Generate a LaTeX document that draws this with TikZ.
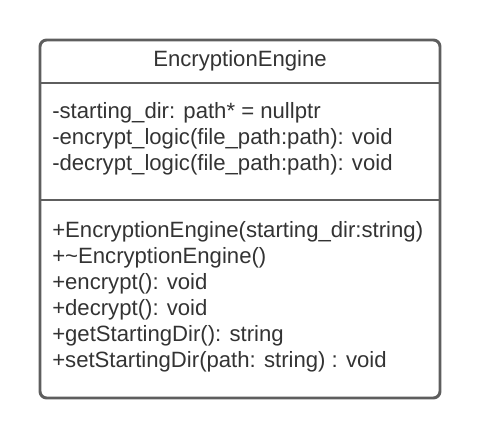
\documentclass[tikz,border=0pt]{standalone}
\usepackage{fontspec}
\setmainfont{Liberation Sans}
\usetikzlibrary{positioning}

\definecolor{umlline}{HTML}{5E5E5E}
\definecolor{umltext}{HTML}{333333}

\tikzset{
  umlrow/.style={anchor=west, inner sep=0pt, text=umltext, font=\fontsize{16.6}{19}\selectfont},
  umlhead/.style={anchor=center, inner sep=0pt, text=umltext, font=\fontsize{16.6}{19}\selectfont},
  umledge/.style={draw=umlline, line width=2.2pt}
}

\begin{document}
\begin{tikzpicture}[x=0.75pt, y=-0.75pt]
        \useasboundingbox (0,0) rectangle (480,438);

        % Klassenrahmen
        \coordinate (NW) at (40,40);
        \coordinate (SE) at (440,398);
        \draw[umledge, rounded corners=5pt] (NW) rectangle (SE);

        % Trennlinien
        \coordinate (L1) at (40,83);
        \coordinate (R1) at (440,83);
        \coordinate (L2) at (40,200);
        \coordinate (R2) at (440,200);
        \draw[umledge] (L1) -- (R1);
        \draw[umledge] (L2) -- (R2);

        % Name
        \node[umlhead] (name) at (240,61) {EncryptionEngine};

        % Attribute
        \node[umlrow] (a1) at (52,113) {-starting\_dir: path* = nullptr};
        \node[umlrow] (a2) at (52,139) {-encrypt\_logic(file\_path:path): void};
        \node[umlrow] (a3) at (52,165) {-decrypt\_logic(file\_path:path): void};

        % Methoden
        \node[umlrow] (m1) at (52,232) {+EncryptionEngine(starting\_dir:string)};
        \node[umlrow] (m2) at (52,258) {+\char`\~EncryptionEngine()};
        \node[umlrow] (m3) at (52,284) {+encrypt(): void};
        \node[umlrow] (m4) at (52,310) {+decrypt(): void};
        \node[umlrow] (m5) at (52,336) {+getStartingDir(): string};
        \node[umlrow] (m6) at (52,362) {+setStartingDir(path: string) : void};
    \end{tikzpicture}
\end{document}
